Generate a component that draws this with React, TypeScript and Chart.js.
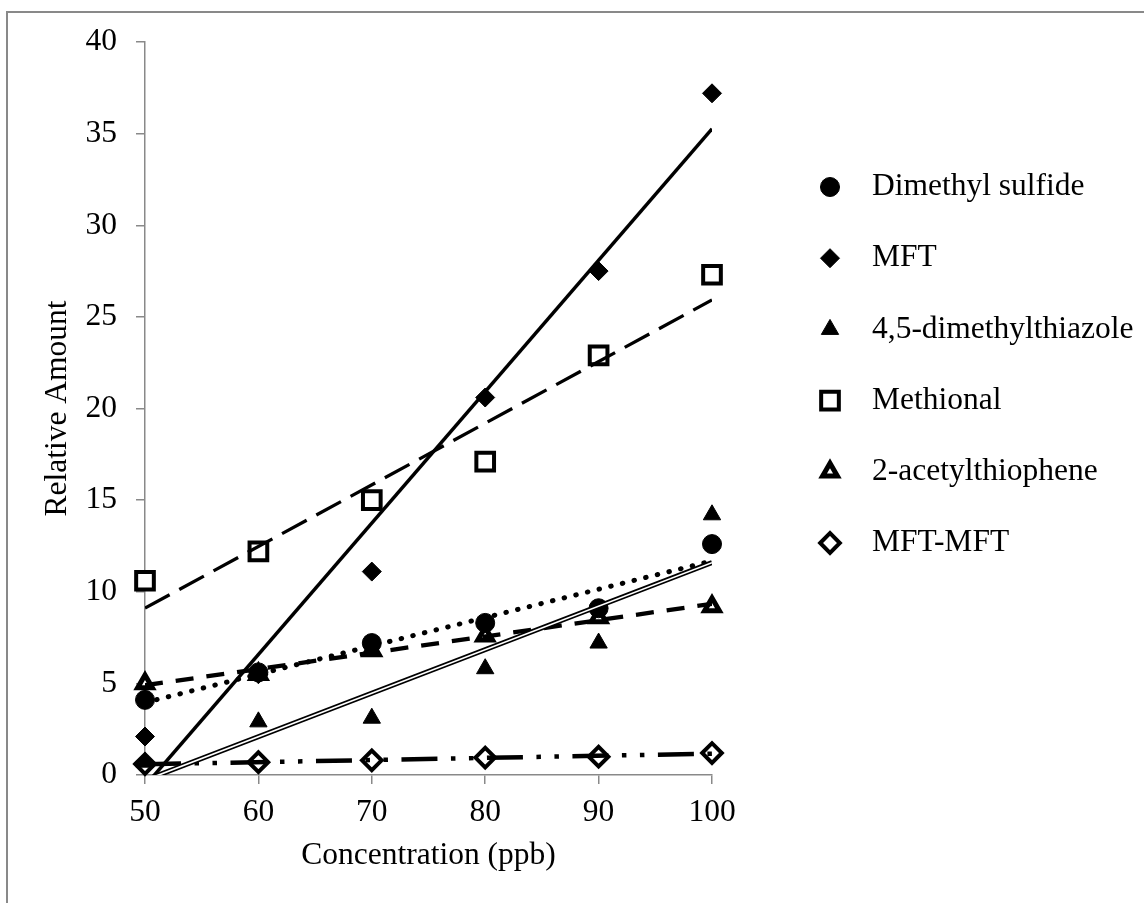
import React, { useEffect, useRef } from 'react';
import { Chart, registerables } from 'chart.js';
import { drawPoint } from 'chart.js/helpers';

Chart.register(...registerables);

// ---- data ----
const concentrations = [50, 60, 70, 80, 90, 100];
const seriesNames = [
  'Dimethyl sulfide',
  'MFT',
  '4,5-dimethylthiazole',
  'Methional',
  '2-acetylthiophene',
  'MFT-MFT',
];
const dimethylSulfide = [4.1, 5.6, 7.2, 8.3, 9.1, 12.6];
const mft = [2.1, 5.5, 11.1, 20.6, 27.5, 37.2];
const dimethylthiazole = [0.7, 2.9, 3.1, 5.8, 7.2, 14.2];
const methional = [10.6, 12.2, 15.0, 17.1, 22.9, 27.3];
const acetylthiophene = [5.0, 5.5, 6.8, 7.6, 8.6, 9.2];
const mftMft = [0.6, 0.7, 0.8, 0.95, 1.0, 1.2];
const yTicks = { min: 0, max: 40, step: 5 };
const xTicks = { min: 50, max: 100, step: 10 };

const seriesValues = [dimethylSulfide, mft, dimethylthiazole, methional, acetylthiophene, mftMft];

// ---- styles ----
const FONT = "'Liberation Serif', 'Times New Roman', serif";
const FS = 31.5;
const AXIS = '#898989';

const markerStyles = [
  { pointStyle: 'circle', radius: 9.5, bg: '#000', bw: 1 },
  { pointStyle: 'rectRot', radius: 9.5, bg: '#000', bw: 1 },
  { pointStyle: 'triangle', radius: 10, bg: '#000', bw: 1 },
  { pointStyle: 'rect', radius: 12.5, bg: '#fff', bw: 4 },
  { pointStyle: 'triangle', radius: 8.5, bg: '#fff', bw: 5 },
  { pointStyle: 'rectRot', radius: 9.8, bg: '#fff', bw: 4 },
];

const trendStyles = [
  { width: 5, dash: [0.5, 11.5], cap: 'round' },
  { width: 3.5, dash: [], cap: 'butt' },
  { width: 5, dash: [], cap: 'butt', double: true },
  { width: 3.3, dash: [28, 11], cap: 'butt' },
  { width: 4.3, dash: [18, 13], cap: 'butt' },
  { width: 4.5, dash: [36, 13.5, 4.5, 13.5, 4.5, 13.5], cap: 'butt' },
];

function linearFit(xs: number[], ys: number[]) {
  const n = xs.length;
  const mx = xs.reduce((a, b) => a + b, 0) / n;
  const my = ys.reduce((a, b) => a + b, 0) / n;
  let sxy = 0;
  let sxx = 0;
  for (let i = 0; i < n; i++) {
    sxy += (xs[i] - mx) * (ys[i] - my);
    sxx += (xs[i] - mx) * (xs[i] - mx);
  }
  const slope = sxy / sxx;
  return (x: number) => my + slope * (x - mx);
}

const LEGEND_MARKER_DX = 118;
const LEGEND_TEXT_DX = 42;
const LEGEND_TOP = 187;
const LEGEND_STEP = 71.2;

const legendPlugin = {
  id: 'sideLegend',
  afterDraw(chart: any) {
    const { ctx, chartArea } = chart;
    ctx.save();
    seriesNames.forEach((name, i) => {
      const m = markerStyles[i];
      const x = chartArea.right + LEGEND_MARKER_DX;
      const y = LEGEND_TOP + i * LEGEND_STEP;
      ctx.fillStyle = m.bg;
      ctx.strokeStyle = '#000';
      ctx.lineWidth = m.bw;
      ctx.setLineDash([]);
      drawPoint(ctx, { pointStyle: m.pointStyle, radius: m.radius, rotation: 0, borderWidth: m.bw } as any, x, y);
      ctx.fillStyle = '#000';
      ctx.font = `${FS}px ${FONT}`;
      ctx.textAlign = 'left';
      ctx.textBaseline = 'middle';
      ctx.fillText(name, x + LEGEND_TEXT_DX, y);
    });
    ctx.restore();
  },
};

export default function App() {
  const canvasRef = useRef<HTMLCanvasElement | null>(null);

  useEffect(() => {
    if (!canvasRef.current) return;
    const datasets: any[] = [];

    seriesNames.forEach((name, i) => {
      const m = markerStyles[i];
      datasets.push({
        label: name,
        data: concentrations.map((x, j) => ({ x, y: seriesValues[i][j] })),
        showLine: false,
        pointStyle: m.pointStyle,
        pointRadius: m.radius,
        pointBackgroundColor: m.bg,
        pointBorderColor: '#000',
        pointBorderWidth: m.bw,
        backgroundColor: m.bg,
        borderColor: '#000',
        clip: false,
        order: 2,
      });
    });

    seriesNames.forEach((name, i) => {
      const t = trendStyles[i];
      const f = linearFit(concentrations, seriesValues[i]);
      const x0 = concentrations[0];
      const x1 = concentrations[concentrations.length - 1];
      const data = [
        { x: x0, y: f(x0) },
        { x: x1, y: f(x1) },
      ];
      datasets.push({
        label: name + ' trend',
        data,
        showLine: true,
        pointRadius: 0,
        borderColor: '#000',
        borderWidth: t.width,
        borderDash: t.dash,
        borderCapStyle: t.cap,
        fill: false,
        order: 1,
      });
      if (t.double) {
        datasets.push({
          label: name + ' trend inner',
          data,
          showLine: true,
          pointRadius: 0,
          borderColor: '#fff',
          borderWidth: 1.7,
          fill: false,
          order: 0,
        });
      }
    });

    const font = { family: FONT, size: FS };
    const chart = new Chart(canvasRef.current, {
      type: 'scatter',
      data: { datasets },
      options: {
        responsive: false,
        animation: false,
        devicePixelRatio: 1,
        layout: { padding: { top: 42, right: 432, left: 0, bottom: 0 } },
        plugins: { legend: { display: false }, tooltip: { enabled: false } },
        scales: {
          x: {
            type: 'linear',
            min: xTicks.min,
            max: xTicks.max,
            ticks: { stepSize: xTicks.step, font, color: '#000', padding: 10 },
            grid: { drawOnChartArea: false, drawTicks: true, tickLength: 9, color: AXIS, lineWidth: 1.5 },
            border: { color: AXIS, width: 1.5 },
            title: { display: true, text: 'Concentration (ppb)', font, color: '#000', padding: { top: 0, bottom: 28 } },
            afterFit: (s: any) => {
              s.height = 128;
            },
          },
          y: {
            type: 'linear',
            min: yTicks.min,
            max: yTicks.max,
            ticks: { stepSize: yTicks.step, font, color: '#000', padding: 19 },
            grid: { drawOnChartArea: false, drawTicks: true, tickLength: 9, color: AXIS, lineWidth: 1.5 },
            border: { color: AXIS, width: 1.5 },
            title: { display: true, text: 'Relative Amount', font, color: '#000', padding: { top: 38.5, bottom: 0 } },
            afterFit: (s: any) => {
              s.width = 145;
            },
          },
        },
      } as any,
      plugins: [legendPlugin],
    });
    return () => chart.destroy();
  }, []);

  return (
    <div style={{ position: 'fixed', left: 0, top: 0, width: 1144, height: 903, background: '#fff', overflow: 'hidden' }}>
      <div
        style={{
          position: 'absolute',
          left: 6,
          top: 11,
          width: 1138,
          height: 892,
          borderLeft: `2px solid ${AXIS}`,
          borderTop: `2px solid ${AXIS}`,
          boxSizing: 'border-box',
        }}
      />
      <canvas ref={canvasRef} width={1144} height={903} style={{ position: 'absolute', left: 0, top: 0, width: 1144, height: 903 }} />
    </div>
  );
}
